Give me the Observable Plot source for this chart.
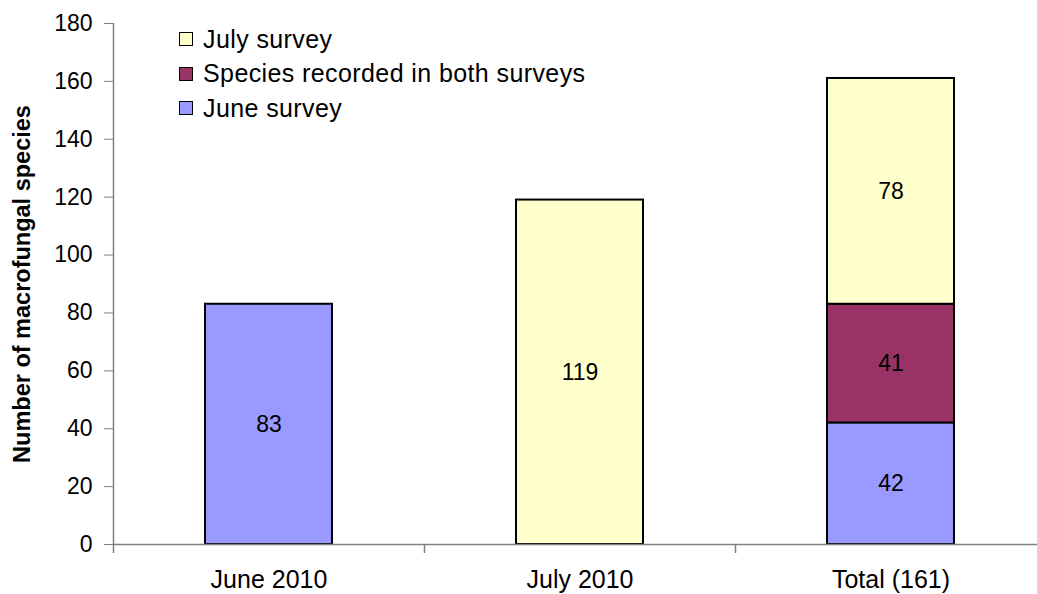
<!DOCTYPE html>
<html>
<head>
<meta charset="utf-8">
<script src="https://cdn.jsdelivr.net/npm/d3@7"></script>
<script src="https://cdn.jsdelivr.net/npm/@observablehq/plot@0.6"></script>
<style>
  html, body { margin: 0; padding: 0; background: #fff; }
  #wrap { position: relative; width: 1037px; height: 594px; font-family: "Liberation Sans", Arial, sans-serif; }
  #wrap svg { position: absolute; left: 0; top: 0; }
  #legend { position: absolute; left: 179px; top: 22px; }
  .item { display: flex; align-items: center; height: 34.5px; font-size: 25px; letter-spacing: 0.4px; color: #000; }
  .sw { width: 12px; height: 12px; border: 1.5px solid #000; margin-right: 10px; flex: none; }
</style>
</head>
<body>
<div id="wrap"><div id="legend"></div></div>
<script>
// ---- data ----
const categories = ["June 2010", "July 2010", "Total (161)"];
const seriesNames = ["June survey", "Species recorded in both surveys", "July survey"];
const seriesColors = ["#9999FF", "#993366", "#FFFFCC"];
const juneValues = [83, 0, 42];
const bothValues = [0, 0, 41];
const julyValues = [0, 119, 78];
const yTicks = [0, 20, 40, 60, 80, 100, 120, 140, 160, 180];
const legendOrder = ["July survey", "Species recorded in both surveys", "June survey"];
const yLabel = "Number of macrofungal species";

// ---- table ----
const seriesValues = [juneValues, bothValues, julyValues];
const rows = [];
categories.forEach((c, i) => {
  seriesNames.forEach((s, j) => {
    if (seriesValues[j][i] > 0) rows.push({category: c, series: s, value: seriesValues[j][i]});
  });
});

const xRange = [113, 1046];
const step = (xRange[1] - xRange[0]) / categories.length;

const chart = Plot.plot({
  width: 1037,
  height: 594,
  marginTop: 23,
  marginBottom: 50,
  marginLeft: 113,
  marginRight: 0,
  style: {fontFamily: "Liberation Sans, Arial, sans-serif", background: "transparent"},
  x: {domain: categories, range: xRange, paddingInner: 0.592, paddingOuter: 0.296, label: null},
  y: {domain: [0, 180], label: null},
  color: {domain: seriesNames, range: seriesColors},
  marks: [
    Plot.barY(rows, Plot.stackY({x: "category", y: "value", fill: "series", z: "series", order: seriesNames, stroke: "#000", strokeWidth: 2})),
    Plot.text(rows, Plot.stackY({x: "category", y: "value", z: "series", text: "value", order: seriesNames, fontSize: 23, fill: "#000"})),
    Plot.ruleY([0], {stroke: "#808080", strokeWidth: 1.5}),
    Plot.ruleX(categories.slice(0, 1), {x: d => d, dx: -step / 2, y1: 0, y2: 180, stroke: "#808080", strokeWidth: 1.5}),
    Plot.ruleX(categories, {x: d => d, dx: -step / 2, y1: 0, insetBottom: -9, stroke: "#808080", strokeWidth: 1.5}),
    Plot.axisY({ticks: yTicks, tickSize: 9, tickPadding: 12, stroke: "#808080", fill: "#000", fontSize: 23, label: null}),
    Plot.axisX({tickSize: 0, tickPadding: 26, fontSize: 25, fill: "#000", label: null}),
    Plot.text([yLabel], {frameAnchor: "left", textAnchor: "middle", rotate: -90, dx: -91, fontSize: 23.5, fontWeight: "bold", fill: "#000"})
  ]
});
document.getElementById("wrap").prepend(chart);

const legend = document.getElementById("legend");
legendOrder.forEach(name => {
  const item = document.createElement("div");
  item.className = "item";
  const sw = document.createElement("span");
  sw.className = "sw";
  sw.style.background = seriesColors[seriesNames.indexOf(name)];
  const t = document.createElement("span");
  t.textContent = name;
  item.append(sw, t);
  legend.append(item);
});
</script>
</body>
</html>
